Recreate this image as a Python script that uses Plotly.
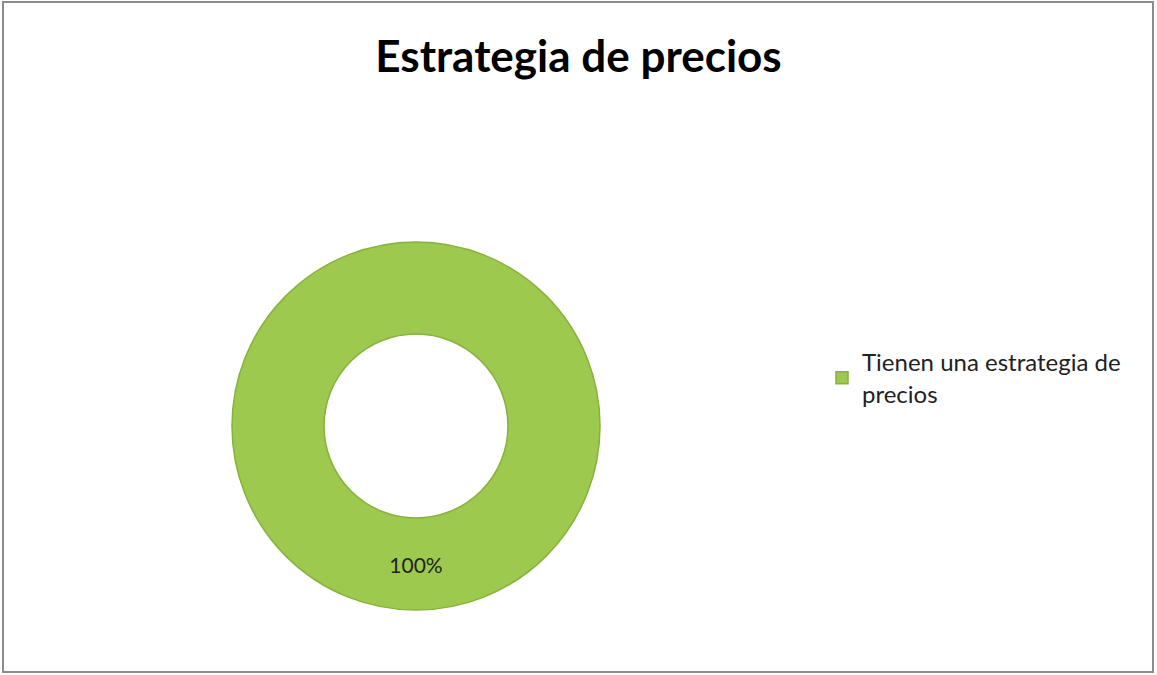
import plotly.graph_objects as go

# Survey answers and their shares
labels = ["Tienen una estrategia de<br>precios"]
values = [100]
colors = ["#9dc94e"]

title_text = "Estrategia de precios"

W, H = 1157, 675

fig = go.Figure()

fig.add_trace(go.Pie(
    labels=labels,
    values=values,
    hole=0.5,
    sort=False,
    direction="counterclockwise",
    rotation=0,
    marker=dict(colors=colors, line=dict(color="#86b23c", width=1.5)),
    textinfo="percent",
    texttemplate="%{percent:.0%}",
    textposition="inside",
    insidetextorientation="horizontal",
    textfont=dict(family="Lato, Open Sans, sans-serif", size=21, color="#222222"),
    domain=dict(x=[232 / W, 600 / W], y=[1 - 610 / H, 1 - 242 / H]),
    showlegend=True,
    hoverinfo="label+percent",
))

fig.update_layout(
    width=W,
    height=H,
    margin=dict(l=0, r=0, t=0, b=0),
    paper_bgcolor="white",
    plot_bgcolor="white",
    title=dict(
        text=f"<b>{title_text}</b>",
        x=0.5,
        xanchor="center",
        y=1 - 57 / H,
        yanchor="middle",
        font=dict(family="Lato, Open Sans, sans-serif", size=44, color="#000000"),
    ),
    legend=dict(
        x=(862 - 40) / W,
        xanchor="left",
        y=1 - 378 / H,
        yanchor="middle",
        font=dict(family="Lato, Open Sans, sans-serif", size=24, color="#222222"),
        itemwidth=30,
        bgcolor="rgba(0,0,0,0)",
    ),
    shapes=[
        dict(
            type="rect",
            xref="paper", yref="paper",
            x0=3 / W, x1=1153 / W,
            y0=3 / H, y1=1 - 2 / H,
            line=dict(color="#8c8c8c", width=2),
            fillcolor="rgba(0,0,0,0)",
        )
    ],
)

fig.write_html("out.html")
